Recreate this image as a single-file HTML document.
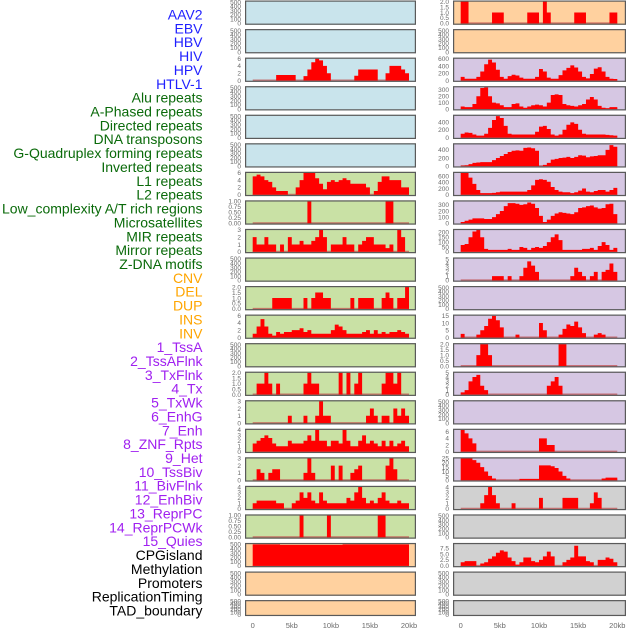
<!DOCTYPE html>
<html><head><meta charset="utf-8"><style>
html,body{margin:0;padding:0;background:#fff;width:630px;height:630px;overflow:hidden}
svg{display:block}
</style></head><body>
<svg id="chart" width="630" height="630" viewBox="0 0 630 630" xmlns="http://www.w3.org/2000/svg" font-family="Liberation Sans, sans-serif">
<g id="labels"></g>
<g id="panels"></g>
<g id="xaxis"></g>
</svg>
<script>
// ---- track labels ----
const trackLabels = ["AAV2","EBV","HBV","HIV","HPV","HTLV-1","Alu repeats","A-Phased repeats","Directed repeats","DNA transposons","G-Quadruplex forming repeats","Inverted repeats","L1 repeats","L2 repeats","Low_complexity A/T rich regions","Microsatellites","MIR repeats","Mirror repeats","Z-DNA motifs","CNV","DEL","DUP","INS","INV","1_TssA","2_TssAFlnk","3_TxFlnk","4_Tx","5_TxWk","6_EnhG","7_Enh","8_ZNF_Rpts","9_Het","10_TssBiv","11_BivFlnk","12_EnhBiv","13_ReprPC","14_ReprPCWk","15_Quies","CPGisland","Methylation","Promoters","ReplicationTiming","TAD_boundary"];
const labelColors = ["#1f1fff","#1f1fff","#1f1fff","#1f1fff","#1f1fff","#1f1fff","#0a6a0a","#0a6a0a","#0a6a0a","#0a6a0a","#0a6a0a","#0a6a0a","#0a6a0a","#0a6a0a","#0a6a0a","#0a6a0a","#0a6a0a","#0a6a0a","#0a6a0a","#ffa500","#ffa500","#ffa500","#ffa500","#ffa500","#a020f0","#a020f0","#a020f0","#a020f0","#a020f0","#a020f0","#a020f0","#a020f0","#a020f0","#a020f0","#a020f0","#a020f0","#a020f0","#a020f0","#a020f0","#000","#000","#000","#000","#000"];
const xTickLabels = ["0","5kb","10kb","15kb","20kb"];
const xTickValues = [0,5,10,15,20];

// ---- series values (40 bins of 0.5kb over 0..20kb) ----
const hivValues = [0,0,0,0,0,0,1.5,1.5,1.5,1.5,1.5,0,0,1.2,3,5,6,5.5,4,2,0,0,0,0,0,0,1.3,3,3,3,3,3,0,0,2,4,4,4,3,2];
const l1Values = [5,5.5,5,4,3.5,2,1,1,1,0,0,2,4,6,6,6,4.5,3,1.5,3.5,4,3.5,4,4.5,4,3,3,3,3,2,0,1,3.5,5,5,4,4,4,2,2];
const lowComplexValues = [0,0,0,0,0,0,0,0,0,0,0,0,0,0,1,0,0,0,0,0,0,0,0,0,0,0,0,0,0,0,0,0,0,0,1,1,0,0,0,0];
const mirValues = [2,1,1,2,1,1,0,1,0,2,1,1,1.5,1,1,1.5,2,3,2,0,1,1,1,2,1,1,0,1,1.5,2,2,1,1,1,0.5,1,0,3,2,0];
const delValues = [0,0,0,0,0,1,1,1,1,1,0,0,0,1,0,1,1.5,1.5,1,1,0,0,0,0,0,1,0,1,1,1,1,0,0,1,1.5,1,0,1,1,2];
const insValues = [1,3,5,3,1,0.5,1.5,1,1.5,1.5,2,2,2.5,1.5,2,1,1,1,1,1,2,3.5,3,2,1,1,1,1,1.5,2,1,2,1,1.5,1,1.5,1.5,2,1.5,1];
const tssAFlnkValues = [0,1,1,2,1,0,1,0,0,0,0,0,0,1,2,1,1,0,0,0,0,0,2,0,2,0,1,2,0,0,0,0,0,1,2,2,1,2,0,0];
const txValues = [0,0,0,0,0,0,0,0,0,1,0,0,0,1,0,0,1,3,1,1,0,0,0,0,0,0,0,0,0,1,2,1,0,1,1,0,2,1,2,1];
const enhValues = [1.5,2,2.5,3,2.5,1.5,1,1,1,2,1.5,1.5,1.5,2,3,2,4,2,2,1,2,2,1.5,4,2,1,1,2,3,1.5,2,1.5,1,2,1,2,1,1.5,2,1];
const hetValues = [0,1.5,1,0,1,1.5,1.5,0,0,0,0,0,0,1,3,1,0,0,0,0,2,0,2,0,0,1,1.5,2,0,0,0,0,0,0,2,3,1.5,0,0,0];
const bivFlnkValues = [1,1.5,1.5,1.5,1.5,1.5,1,1,0,0,1,1.5,3,2,3,1.5,1,3,1.5,1,1,1,1,1,2,1.5,3,4,2,1,1.5,1,2,3,1.5,1,1,1.5,1,1];
const reprPCValues = [0,0,0,0,0,0,0,0,0,0,0,0,1,0,0,0,0,0,0,1,0,0,0,0,0,0,0,0,0,0,0,0,1,1,0,0,0,0,0,0];
const cpgValues = [500,500,500,500,500,500,500,490,490,490,490,490,490,490,490,490,490,490,490,490,490,490,490,500,500,500,500,500,500,500,500,500,500,500,500,500,500,500,500,500];
const aav2Values = [2,2,0,0,0,0,0,0,1,1,1,0,0,0,0,0,0,1,1,1,0,2,1,0,0,0,0,0,0,1,1,1,0,0,0,0,0,0,1,1];
const hpvValues = [100,50,50,50,100,250,450,580,500,300,100,50,120,160,140,80,50,50,50,100,320,250,80,50,50,150,280,350,420,360,250,100,60,180,330,370,250,100,50,40];
const htlvValues = [40,30,30,80,200,330,340,200,100,90,60,30,30,80,90,40,20,40,60,70,60,40,100,220,230,220,80,60,50,40,60,80,150,190,150,50,20,10,30,30];
const aPhasedValues = [100,130,120,80,50,50,100,250,450,550,500,300,100,80,80,80,80,80,80,150,280,300,220,80,50,80,200,330,390,350,200,100,80,80,80,80,80,70,60,50];
const gQuadValues = [10,20,50,80,90,100,100,100,150,200,250,300,350,380,390,380,450,460,440,380,0,30,80,160,180,200,210,230,200,230,270,260,220,240,250,270,270,400,520,480];
const invertedValues = [720,700,550,350,150,50,50,50,60,80,100,100,100,100,100,100,100,150,300,480,500,480,420,250,150,100,80,80,50,80,130,200,100,80,120,150,150,100,150,220];
const l2Values = [20,40,60,80,80,80,70,70,100,150,200,280,330,330,320,300,310,340,320,250,120,20,60,120,160,180,170,160,150,180,250,260,280,290,260,240,250,310,320,150];
const microsatValues = [70,80,150,210,230,150,30,20,20,20,20,20,30,20,20,50,40,20,40,50,40,60,100,150,180,120,20,20,20,20,20,30,30,40,20,60,100,70,20,40];
const mirrorValues = [0,0,0,0,0,0,0,0,1,1,1,0,1,0,0,1,3,4.5,3.5,2,0,0,0,0,0,0,0,0,1,3,2,1,0,1,2,0,2,2.5,4,2];
const dupValues = [2.5,0,0,0,2,5,8,13,15,12,7,0,0,0,2,0,0,0,0,0,10,5,0,0,0,2,6,9,8,11,7,3,0,0,2,3,2,0,0,0];
const tssAValues = [0,0,0,0,1,2,2,1,0,0,0,0,0,0,0,0,0,0,0,0,0,0,0,0,0,2,2,0,0,0,0,0,0,0,0,0,0,0,0,0];
const txFlnkValues = [0.5,1,3,4,4.5,2,1,0,0,0,0,0,0,0,0,0,0,0,0,0,0,0,2,3,4,2,0,0,0,0,0,0,0,0,0,0,0,0,0,0];
const enhGValues = [6.5,5.5,4,2.5,0,0,0,0,0,0,0,0,0,0,0,0,0,0,0,0,4,4,2,2,0,0,0,0,0,0,0,0,0,0,0,0,0,0,0,0];
const znfValues = [25,25,25,23,20,15,10,5,2,0,0,0,0,0,0,1.5,1.5,1.5,1.5,1.5,17,17,17,16,14,10,5,2,0,0,0,0,0,0,0,0,2,3,3,3];
const tssBivValues = [0,0,0,0,0,1,2.5,4,2.5,1,0,0,0,1,0,0,0,0,0,0,2,0,0,0,0,0,2,2,2,2,0,0,0,1,3,2,0,0,0,0];
const methylValues = [1.5,2,2,2,0,1,1.5,3,4,5.5,6.5,6,3.5,2,0.5,1.5,3.5,3.5,2,1.5,2.5,4,6,4,0,0,1.5,2.5,3.5,8.5,4,4,2,1.5,0,2.5,2.5,3.5,3,1.5];
const emptyValues = [];

const ticks500 = [0,100,200,300,400,500];
// panel config: [column, row, background, ymax, ticks, values]
const panels = [
 [0,0,"#c9e4ec",520,ticks500,emptyValues],[0,1,"#c9e4ec",520,ticks500,emptyValues],
 [0,2,"#c9e4ec",6.1,[0,2,4,6],hivValues],[0,3,"#c9e4ec",520,ticks500,emptyValues],
 [0,4,"#c9e4ec",520,ticks500,emptyValues],[0,5,"#c9e4ec",520,ticks500,emptyValues],
 [0,6,"#c9e1a5",6.1,[0,2,4,6],l1Values],[0,7,"#c9e1a5",1.02,[0,0.25,0.5,0.75,1],lowComplexValues],
 [0,8,"#c9e1a5",3.05,[0,1,2,3],mirValues],[0,9,"#c9e1a5",520,ticks500,emptyValues],
 [0,10,"#c9e1a5",2.04,[0,0.5,1,1.5,2],delValues],[0,11,"#c9e1a5",6.1,[0,2,4,6],insValues],
 [0,12,"#c9e1a5",520,ticks500,emptyValues],[0,13,"#c9e1a5",2.04,[0,0.5,1,1.5,2],tssAFlnkValues],
 [0,14,"#c9e1a5",3.05,[0,1,2,3],txValues],[0,15,"#c9e1a5",4.1,[0,1,2,3,4],enhValues],
 [0,16,"#c9e1a5",3.05,[0,1,2,3],hetValues],[0,17,"#c9e1a5",4.1,[0,1,2,3,4],bivFlnkValues],
 [0,18,"#c9e1a5",1.02,[0,0.25,0.5,0.75,1],reprPCValues],[0,19,"#ffd19f",520,ticks500,cpgValues],
 [0,20,"#ffd19f",520,ticks500,emptyValues],[0,21,"#ffd19f",520,ticks500,emptyValues],
 [1,0,"#ffd19f",2.04,[0,0.5,1,1.5,2],aav2Values],[1,1,"#ffd19f",520,ticks500,emptyValues],
 [1,2,"#d6c7e3",620,[0,200,400,600],hpvValues],[1,3,"#d6c7e3",350,[0,100,200,300],htlvValues],
 [1,4,"#d6c7e3",570,[0,200,400],aPhasedValues],[1,5,"#d6c7e3",550,[0,200,400],gQuadValues],
 [1,6,"#d6c7e3",720,[0,200,400,600],invertedValues],[1,7,"#d6c7e3",365,[0,100,200,300],l2Values],
 [1,8,"#d6c7e3",230,[0,50,100,150,200],microsatValues],[1,9,"#d6c7e3",5.3,[0,1,2,3,4,5],mirrorValues],
 [1,10,"#d6c7e3",520,ticks500,emptyValues],[1,11,"#d6c7e3",15.5,[0,5,10,15],dupValues],
 [1,12,"#d6c7e3",2.04,[0,0.5,1,1.5,2],tssAValues],[1,13,"#d6c7e3",5.1,[0,1,2,3,4,5],txFlnkValues],
 [1,14,"#d6c7e3",520,ticks500,emptyValues],[1,15,"#d6c7e3",6.7,[0,2,4,6],enhGValues],
 [1,16,"#d6c7e3",25.5,[0,5,10,15,20,25],znfValues],[1,17,"#d1d1d1",4.1,[0,1,2,3,4],tssBivValues],
 [1,18,"#d1d1d1",520,ticks500,emptyValues],[1,19,"#d1d1d1",9.4,[0,2.5,5,7.5],methylValues],
 [1,20,"#d1d1d1",520,ticks500,emptyValues],[1,21,"#d1d1d1",520,ticks500,emptyValues]
];

const NS = "http://www.w3.org/2000/svg";
function mk(tag, attrs, parent){const e=document.createElementNS(NS,tag);for(const k in attrs)e.setAttribute(k,attrs[k]);parent.appendChild(e);return e;}
const colLeft=[245,453], colRight=[416,626], dataX0=[252.7,460.7], dataX1=[409,617.3];
function rowTop(r){return 0.5+r*28.55;}
function rowH(r){return r===21?16:24.3;}
function xScale(c,kb){return dataX0[c]+(dataX1[c]-dataX0[c])*kb/20;}
function yScale(top,h,ymax,v){const y0=top+h-1.4, y1=top+0.6;return y0-(y0-y1)*v/ymax;}
function fmt(t,ticks){const dec=ticks.some(v=>v%1!==0);if(!dec)return String(t);const d=ticks.some(v=>Math.round(v*100)%50!==0)?2:1;return t.toFixed(d);}

const lg=document.getElementById('labels');
trackLabels.forEach((t,i)=>{
  const e=mk('text',{x:202.5,y:(19.5+i*13.86).toFixed(1),'text-anchor':'end','font-size':'14',fill:labelColors[i]},lg);
  
  
  e.textContent=t;
});

const pg=document.getElementById('panels');
panels.forEach(p=>{
  const [c,r,bg,ymax,ticks,vals]=p;
  const top=rowTop(r),h=rowH(r),L=colLeft[c],R=colRight[c];
  const g=mk('g',{},pg);
  
  
  const bgr=mk('rect',{x:L,y:top,width:R-L,height:h,fill:bg},g);
  
  
  if(vals.length){
    const y0=yScale(top,h,ymax,0);
    const bl=mk('line',{x1:dataX0[c],x2:dataX1[c],y1:y0,y2:y0,stroke:'#c04848','stroke-width':2,'stroke-opacity':0.7},g);
    
    
    // single path of bars (avoids anti-aliasing seams)
    let d='';
    vals.forEach((v,i)=>{
      if(!v)return;
      const x=xScale(c,i*0.5), x2=xScale(c,(i+1)*0.5), y=yScale(top,h,ymax,v);
      d+='M'+x.toFixed(2)+' '+y0.toFixed(2)+'V'+y.toFixed(2)+'H'+x2.toFixed(2)+'V'+y0.toFixed(2)+'Z';
    });
    if(d){
      const b=mk('path',{d:d,fill:'#ff0000'},g);
      
      
    }
  }
  mk('rect',{x:L+0.6,y:top+0.6,width:R-L-1.2,height:h-1.2,fill:'none',stroke:'#5a5a5a','stroke-width':1.2},g);
  ticks.forEach(t=>{
    const ty=yScale(top,h,ymax,t);
    if(ty<top-3)return;
    const e=mk('text',{x:L-4,y:(ty+2.3).toFixed(1),'text-anchor':'end','font-size':'6.5',fill:'#6a6a6a'},g);
    
    
    e.textContent=fmt(t,ticks);
  });
});

const xg=document.getElementById('xaxis');
[0,1].forEach(c=>{
  xTickValues.forEach((v,i)=>{
    const e=mk('text',{x:xScale(c,v).toFixed(1),y:628,'text-anchor':'middle','font-size':'7.5',fill:'#6a6a6a'},xg);
    
    
    e.textContent=xTickLabels[i];
  });
});
</script>
</body></html>
